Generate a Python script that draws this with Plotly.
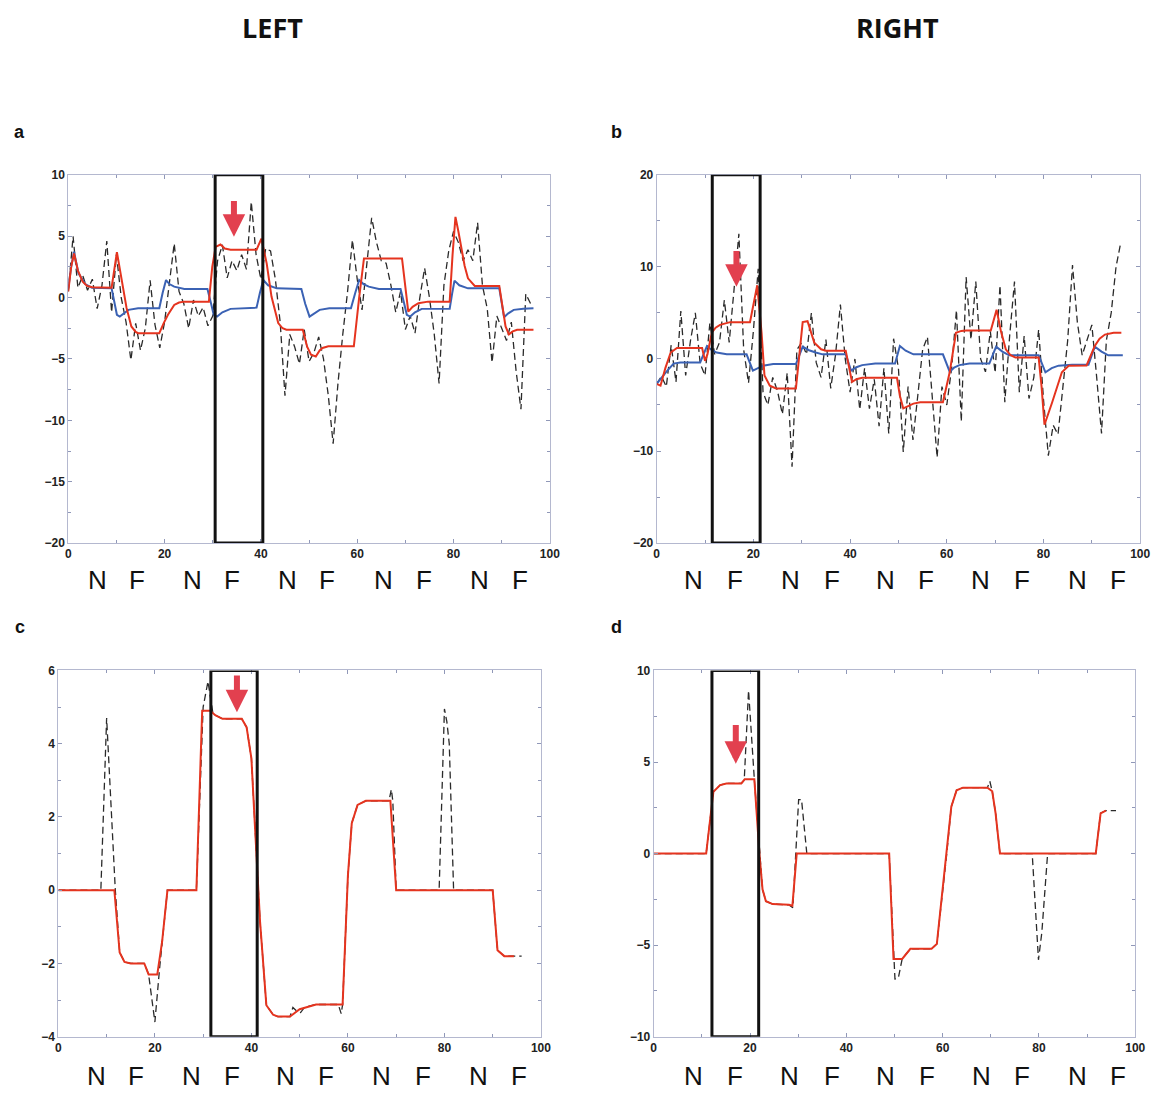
import plotly.graph_objects as go

# ---------------- DATA ----------------
# Panel a (LEFT, raw) : sample index 0..96
a_dash_x = list(range(97))
a_dash_y = [0.5, 5.0, 0.8, 1.8, 0.6, 1.5, -0.9, 1.0, 4.6, -1.2,
            3.5, 0.0, -2.0, -5.1, -2.1, -4.3, -2.5, 1.4, -2.2, -4.1,
            -2.0, 1.0, 4.4, 0.5, -0.5, -2.5, -0.2, -1.5, -0.8, -2.3,
            -1.5, 3.0, 4.3, 1.6, 3.0, 2.2, 3.5, 2.3, 7.8, 3.5,
            1.5, 4.0, 3.8, 1.5, -2.0, -8.0, -3.0, -4.0, -5.4, -2.6,
            -5.2, -4.5, -3.2, -5.0, -8.0, -11.9, -7.0, -3.0, 0.5, 4.7,
            1.5, -1.0, 3.0, 6.5, 4.5, 3.0, 2.8, 1.0, -1.2, 0.5,
            -2.6, -1.5, -2.9, 0.0, 2.4, 0.0, -3.0, -7.0, 1.0, 3.8,
            5.4, 4.5, 3.0, 3.9, 3.0, 6.1, 1.0, -0.9, -5.3, -1.5,
            -2.5, -3.5, -2.0, -6.0, -9.1, 0.3, -0.5]
a_red_x = [0, 0.6, 1.2, 2.0, 3.0, 3.9, 5, 9, 10.1, 11.1, 12.1, 13.1, 14.0, 14.5, 18.9, 19.8, 20.7, 22, 23, 24.1,
           29.2, 29.9, 30.6, 31.6, 32.5, 33.7, 39.1, 40.1, 41.2, 42.2, 43.6, 44.5, 45.3, 48.7, 49.6, 50.4, 51.4,
           52.2, 52.8, 54, 59.3, 60.4, 61.4, 69.3, 70.0, 70.6, 71.5, 72.7, 74.7, 79.2, 79.8, 80.4, 81.0, 81.6,
           82.3, 83, 84.4, 89.5, 90.2, 90.8, 91.5, 92.3, 93.2, 96.6]
a_red_y = [0.5, 2.5, 3.6, 2.2, 1.3, 0.95, 0.85, 0.8, 3.7, 1.43, -0.84, -2.35, -2.8, -2.9, -2.9, -2.1, -1.4, -0.6, -0.4, -0.33,
           -0.33, 2.5, 4.13, 4.32, 4.0, 3.9, 3.9, 4.8, 2.79, 0.08, -2.08, -2.5, -2.62, -2.62, -4.0, -4.65, -4.8,
           -4.3, -4.1, -3.97, -3.97, 0.0, 3.19, 3.19, 0.8, -1.14, -0.75, -0.46, -0.33, -0.33, 3.5, 6.57, 5.4, 4.13,
           2.6, 1.57, 0.95, 0.95, -1.0, -2.35, -3.0, -2.75, -2.62, -2.62]
a_blue_x = [0, 0.6, 1.2, 2.1, 3.5, 4.9, 9.0, 9.6, 10.1, 10.7, 11.5, 12.5, 14.5, 18.9, 19.6, 20.3, 21.0, 22.0, 24.1,
            28.9, 29.6, 30.2, 30.9, 32.0, 33.7, 39.1, 39.8, 40.5, 41.5, 43.3, 48.4, 49.2, 50.1, 51.0, 52.2, 54.2,
            58.7, 59.6, 60.4, 61.3, 62.4, 64.5, 69.0, 69.7, 70.3, 71.0, 72.0, 73.4, 79.2, 79.7, 80.2, 81.2, 83.0,
            89.5, 90.0, 90.5, 91.3, 92.5, 94.5, 96.6]
a_blue_y = [0.75, 2.5, 3.73, 2.0, 1.1, 0.81, 0.75, -0.4, -1.4, -1.55, -1.3, -1.0, -0.87, -0.87, 0.4, 1.43, 1.1, 0.89, 0.7,
            0.7, -0.4, -1.4, -1.55, -1.2, -0.92, -0.82, 0.4, 1.43, 1.0, 0.75, 0.7, -0.5, -1.55, -1.3, -1.0, -0.87,
            -0.87, 0.4, 1.43, 1.1, 0.89, 0.7, 0.7, -0.4, -1.4, -1.55, -1.2, -0.92, -0.9, 0.3, 1.38, 1.0, 0.75,
            0.75, -0.5, -1.6, -1.3, -1.0, -0.9, -0.87]

# Panel b (RIGHT, raw)
b_dash_x = list(range(97))
b_dash_y = [-2.7, -1.9, -3.0, 1.5, -2.5, 5.2, -1.8, 2.0, 5.0, -0.5,
            -1.8, 3.9, 0.5, 1.8, 6.4, 1.8, 7.5, 13.6, 1.0, -2.6,
            3.0, 9.8, -3.6, -5.0, -2.0, -3.5, -6.0, -1.5, -11.7, 1.0,
            1.8, 0.5, 5.0, -0.4, -2.0, 2.1, -3.2, 0.5, 5.9, 0.0,
            -3.6, 0.0, -5.5, -1.0, -5.4, -2.2, -7.3, -1.0, -8.1, 2.2,
            -1.0, -10.1, -3.0, -8.8, -4.0, 1.0, 2.4, -4.0, -10.7, -3.0,
            -5.0, -1.0, 5.3, -6.8, 8.9, 2.1, 8.4, 0.0, -1.4, 3.0,
            -1.5, 8.0, -4.7, 2.5, 8.4, -3.6, 2.5, -4.3, -2.0, 3.2,
            -4.4, -10.5, -7.2, -8.2, -3.0, 2.0, 10.2, 4.0, 0.4, 2.0,
            3.7, -2.0, -8.1, 2.0, 5.0, 10.0, 12.7]
b_red_x = [0, 0.8, 1.8, 2.9, 4.2, 9.4, 10.0, 10.5, 11.4, 12.2, 13.1, 15.2, 19.3, 20.1, 20.8, 21.7, 22.3, 23.4, 24.7,
           28.8, 29.5, 30.2, 31.2, 32.6, 34.0, 35, 39.1, 39.8, 40.4, 41.3, 42.5, 49.7, 50.3, 51, 52, 53.1, 54.5,
           59.2, 60.6, 61.9, 63.0, 64.0, 69.1, 70.3, 71.2, 72.2, 73.2, 74.2, 79, 79.6, 80.2, 81.0, 81.8, 83.8,
           85.2, 88.9, 90.6, 91.6, 92.7, 94.5, 96.1]
b_red_y = [-2.7, -2.9, -1.0, 0.7, 1.2, 1.2, -0.2, 0.5, 2.85, 3.4, 3.7, 4.0, 4.0, 6.0, 8.0, 2.85, -1.8, -2.9, -3.2,
           -3.2, 0.5, 4.0, 4.1, 1.77, 1.05, 0.9, 0.9, -1.0, -2.5, -2.2, -2.05, -2.05, -4.0, -5.37, -5.1, -4.85, -4.7,
           -4.7, -1.45, 2.85, 3.05, 3.1, 3.1, 5.35, 3.0, 1.05, 0.4, 0.15, 0.15, -3.0, -7.15, -6.0, -4.7, -1.45,
           -0.73, -0.7, 1.4, 2.2, 2.65, 2.85, 2.85]
b_blue_x = [0, 1.0, 1.9, 3.5, 4.9, 9.0, 10.4, 11.3, 12.4, 14.5, 18.6, 19.9, 21, 22, 24.1, 28.8, 30.2, 31.5, 32.9,
            34.3, 39.1, 40.2, 41.3, 42.5, 45.2, 49.3, 50.3, 51.5, 53.1, 59.2, 60.6, 61.5, 62.6, 64.7, 68.8, 70.2,
            71.5, 72.9, 79.0, 80.4, 81.7, 83.1, 85.9, 89.3, 90.6, 92.0, 93.4, 96.4]
b_blue_y = [-2.7, -2.0, -1.45, -0.5, -0.38, -0.38, 1.4, 1.0, 0.7, 0.5, 0.5, -1.27, -0.95, -0.73, -0.55, -0.55, 1.34,
            0.95, 0.7, 0.5, 0.5, -1.27, -0.9, -0.67, -0.5, -0.5, 1.4, 0.9, 0.5, 0.5, -1.38, -0.95, -0.67, -0.5,
            -0.5, 1.34, 0.8, 0.4, 0.4, -1.45, -1.0, -0.73, -0.62, -0.62, 1.34, 0.8, 0.4, 0.4]

# Panel c (LEFT, processed)
c_dash_x = [0, 8.8, 10, 11.8, 12.7, 13.7, 15, 17.8, 18.7, 20, 21, 21.5, 22.6, 28.6, 30, 31, 32, 32.5, 34, 38, 39,
            40, 40.7, 41.2, 41.8, 43.1, 44.5, 45.5, 48, 48.6, 49.4, 50.2, 51, 53.4, 58.0, 58.6, 58.9, 60, 60.8,
            62, 63.7, 68.5, 69, 69.3, 70, 78.9, 80, 80.5, 81, 81.9, 90, 91, 92.4, 96]
c_dash_y = [0, 0, 4.7, 0, -1.7, -1.96, -2.0, -2.0, -2.3, -3.6, -2.1, -1.4, 0, 0, 5.0, 5.7, 4.85, 4.78, 4.68, 4.68,
            4.45, 3.6, 1.83, 0.74, -0.88, -3.14, -3.4, -3.45, -3.45, -3.2, -3.3, -3.34, -3.2, -3.12, -3.12,
            -3.37, -3.12, 0.4, 1.83, 2.33, 2.44, 2.44, 2.75, 2.44, 0, 0, 4.95, 4.6, 4.0, 0, 0, -1.64, -1.8, -1.8]
c_red_x = [0, 11.6, 12.7, 13.7, 15, 17.8, 18.7, 20.5, 21.5, 22.6, 28.6, 29.8, 31.5, 32.5, 34, 38, 39, 40, 40.7,
           41.2, 41.8, 43.1, 44.5, 45.5, 48, 50, 53.4, 58.9, 60, 60.8, 62, 63.7, 68.8, 70, 90, 91, 92.4, 94.4]
c_red_y = [0, 0, -1.7, -1.96, -2.0, -2.0, -2.3, -2.3, -1.4, 0, 0, 4.9, 4.9, 4.78, 4.68, 4.68, 4.45, 3.6, 1.83,
           0.74, -0.88, -3.14, -3.4, -3.45, -3.45, -3.25, -3.12, -3.12, 0.4, 1.83, 2.33, 2.44, 2.44, 0, 0,
           -1.64, -1.8, -1.8]

# Panel d (RIGHT, processed)
d_dash_x = [0, 10.9, 12.4, 13.8, 15.1, 18.2, 18.8, 19.7, 20.9, 22, 22.6, 23.3, 24.7, 28.1, 28.9, 30.1, 30.7, 31.8,
            48.9, 50.1, 50.8, 51.6, 53.3, 57.7, 58.8, 60.8, 61.8, 62.9, 64.2, 69.3, 69.8, 70.3, 71.0, 71.9, 78.6,
            79.9, 80.6, 81.8, 91.8, 92.8, 93.9, 96]
d_dash_y = [0, 0, 3.38, 3.74, 3.83, 3.83, 4.0, 8.9, 4.06, -0.15, -1.95, -2.6, -2.76, -2.8, -2.95, 2.95, 2.95, 0,
            0, -6.85, -6.8, -5.75, -5.2, -5.2, -4.93, -0.14, 2.56, 3.46, 3.6, 3.6, 3.95, 3.4, 2.2, 0, 0,
            -5.8, -4.3, 0, 0, 2.2, 2.35, 2.35]
d_red_x = [0, 10.9, 12.4, 13.8, 15.1, 18.2, 18.9, 20.9, 22, 22.6, 23.3, 24.7, 28.1, 28.8, 29.7, 48.9, 49.8, 51.6,
           53.3, 57.7, 58.8, 60.8, 61.8, 62.9, 64.2, 69.3, 70.3, 71.0, 71.9, 91.8, 92.8, 93.9]
d_red_y = [0, 0, 3.38, 3.74, 3.83, 3.83, 4.06, 4.06, -0.15, -1.95, -2.6, -2.76, -2.8, -2.85, 0, 0, -5.75, -5.75,
           -5.2, -5.2, -4.93, -0.14, 2.56, 3.46, 3.6, 3.6, 3.4, 2.2, 0, 0, 2.2, 2.35]

# highlighted windows [start, end]
window_a = [30.5, 40.4]
window_b = [11.5, 21.4]
window_c = [31.6, 41.2]
window_d = [12.1, 21.8]

# arrows: [x, tail y, tip y]
arrow_a = [34.4, 8.0, 4.95]
arrow_b = [16.5, 11.9, 7.85]
arrow_c = [37.0, 5.9, 4.86]
arrow_d = [17.05, 7.1, 4.9]

# condition labels under each panel
cond_labels = ["N", "F", "N", "F", "N", "F", "N", "F", "N", "F"]
cond_pos_a = [6.0, 14.2, 25.9, 34.0, 45.6, 53.8, 65.5, 73.9, 85.4, 93.8]
cond_pos_b = [7.6, 16.2, 27.6, 36.2, 47.4, 55.8, 67.0, 75.5, 87.1, 95.5]
cond_pos_c = [7.8, 16.0, 27.5, 36.0, 47.0, 55.5, 67.0, 75.6, 87.0, 95.5]
cond_pos_d = [8.2, 16.8, 28.3, 37.0, 48.2, 56.7, 68.0, 76.4, 88.0, 96.5]

x_ticks = [0, 20, 40, 60, 80, 100]

# ---------------- STYLE ----------------
W, H = 1169, 1099
RED = "#e5341f"
BLUE = "#3b62b4"
DASH = "#2a2a2a"
ARROW = "#e2404f"
FRAME = "#b4b8cf"
TICKC = "#9098b8"

domains = {
    "a": ([66, 553], [170, 543]),
    "b": ([661, 1150], [170, 543]),
    "c": ([56, 544], [672, 1043]),
    "d": ([658, 1145], [672, 1043]),
}
yranges = {"a": ([-20, 10], 5, 2.5), "b": ([-20, 20], 10, 5),
           "c": ([-4, 6], 2, 1), "d": ([-10, 10], 5, 2.5)}

fig = go.Figure()
axis_ids = {"a": ("x", "y", ""), "b": ("x2", "y2", "2"), "c": ("x3", "y3", "3"), "d": ("x4", "y4", "4")}

series = {
    "a": [(a_dash_x, a_dash_y, "dash"), (a_blue_x, a_blue_y, "blue"), (a_red_x, a_red_y, "red")],
    "b": [(b_dash_x, b_dash_y, "dash"), (b_blue_x, b_blue_y, "blue"), (b_red_x, b_red_y, "red")],
    "c": [(c_dash_x, c_dash_y, "dash"), (c_red_x, c_red_y, "red")],
    "d": [(d_dash_x, d_dash_y, "dash"), (d_red_x, d_red_y, "red")],
}
windows = {"a": window_a, "b": window_b, "c": window_c, "d": window_d}
arrows = {"a": arrow_a, "b": arrow_b, "c": arrow_c, "d": arrow_d}
conds = {"a": cond_pos_a, "b": cond_pos_b, "c": cond_pos_c, "d": cond_pos_d}

tickfont = dict(family="Liberation Sans", size=12, color="#222", weight="bold")

annotations = []
shapes = []
for key in ["a", "b", "c", "d"]:
    xa, ya, suf = axis_ids[key]
    for xs, ys, kind in series[key]:
        if kind == "dash":
            line = dict(color=DASH, width=1.3, dash="7px,4px")
        elif kind == "blue":
            line = dict(color=BLUE, width=2)
        else:
            line = dict(color=RED, width=2)
        fig.add_trace(go.Scatter(x=xs, y=ys, mode="lines", line=line, xaxis=xa, yaxis=ya,
                                 showlegend=False, hoverinfo="skip"))
    (x0, x1), (y0, y1) = domains[key]
    yr, dt, mdt = yranges[key]
    fig.update_layout(**{
        "xaxis" + suf: dict(domain=[x0 / W, x1 / W], range=[0, 100], tickvals=x_ticks,
                            ticks="inside", ticklen=4, tickcolor=TICKC, showline=True, linecolor=FRAME,
                            linewidth=1, mirror="allticks", showgrid=False, zeroline=False,
                            tickfont=tickfont, anchor=ya,
                            minor=dict(ticks="inside", ticklen=3, dtick=10, tickcolor=TICKC)),
        "yaxis" + suf: dict(domain=[1 - y1 / H, 1 - y0 / H], range=yr, dtick=dt, tick0=0,
                            ticks="inside", ticklen=4, tickcolor=TICKC, showline=True, linecolor=FRAME,
                            linewidth=1, mirror="allticks", showgrid=False, zeroline=False,
                            tickfont=tickfont, anchor=xa,
                            minor=dict(ticks="inside", ticklen=3, dtick=mdt, tickcolor=TICKC)),
    })
    w = windows[key]
    shapes.append(dict(type="rect", xref=xa, yref=ya, x0=w[0], x1=w[1], y0=yr[0], y1=yr[1],
                       line=dict(color="#111", width=3), layer="above"))
    ar = arrows[key]
    annotations.append(dict(x=ar[0], y=ar[2], ax=ar[0], ay=ar[1], xref=xa, yref=ya, axref=xa, ayref=ya,
                            showarrow=True, arrowhead=2, arrowsize=0.75, arrowwidth=6,
                            arrowcolor=ARROW, text="", standoff=0))
    ypos = 1 - (580 if key in "ab" else 1083) / H
    for lab, pos in zip(cond_labels, conds[key]):
        annotations.append(dict(x=pos, y=ypos, xref=xa, yref="paper", text=lab, showarrow=False,
                                font=dict(family="Liberation Sans", size=26, color="#111"),
                                xanchor="center", yanchor="middle"))

# titles and panel letters
for txt, x, y in [("LEFT", 273, 21), ("RIGHT", 905, 21)]:
    annotations.append(dict(x=x / W, y=1 - y / H, xref="paper", yref="paper", text=txt, showarrow=False,
                            font=dict(family="Open Sans", size=27, color="#111", weight="bold"),
                            xanchor="center", yanchor="middle"))
for txt, x, y in [("a", 17, 127), ("b", 620, 127), ("c", 17, 628), ("d", 620, 628)]:
    annotations.append(dict(x=x / W, y=1 - y / H, xref="paper", yref="paper", text=txt, showarrow=False,
                            font=dict(family="Liberation Sans", size=18, color="#111", weight="bold"),
                            xanchor="center", yanchor="middle"))

fig.update_layout(width=W, height=H, margin=dict(l=0, r=0, t=0, b=0),
                  paper_bgcolor="white", plot_bgcolor="white",
                  annotations=annotations, shapes=shapes, showlegend=False)

fig.write_html("out.html")
